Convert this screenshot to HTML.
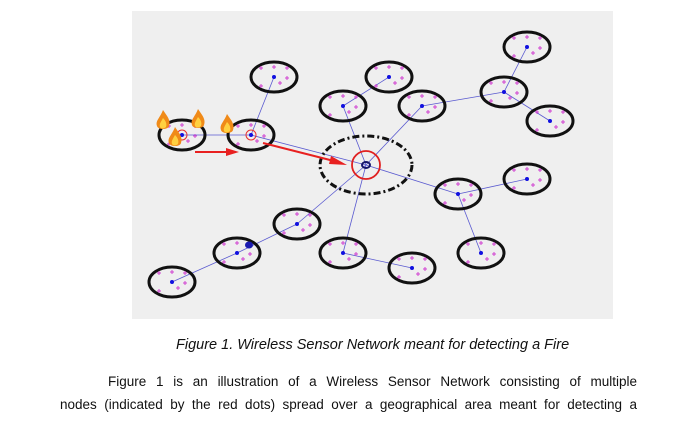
<!DOCTYPE html>
<html><head><meta charset="utf-8"><style>
html,body{margin:0;padding:0;background:#fff;width:698px;height:430px;overflow:hidden;position:relative}
svg{position:absolute;left:0;top:0}
.t{position:absolute;font-family:"Liberation Sans",sans-serif;font-size:13.5px;line-height:1;color:#111;white-space:nowrap}
.j{text-align:justify;text-align-last:justify;white-space:normal}
</style></head><body>
<svg width="698" height="430" viewBox="0 0 698 430">
<defs>
<g id="cr"><path d="M-2 0H2M0 -2V2" stroke="#d040d0" stroke-width="1"/></g>
<g id="ps">
<use href="#cr" x="-13" y="-9"/><use href="#cr" x="0" y="-10"/><use href="#cr" x="13" y="-9"/>
<use href="#cr" x="13" y="1"/><use href="#cr" x="-13" y="9"/><use href="#cr" x="6" y="6"/>
</g>
<g id="fl">
<path d="M0 -12 C4 -6 8 -2 6 4 C5 8 -5 8 -6 4 C-8 -1 -3 -4 0 -12Z" fill="#f08a18"/>
<path d="M0 -4 C3 -1 4 2 3 5 C1 7 -2 7 -3 5 C-4 2 -2 0 0 -4Z" fill="#ffd040"/>
</g>
</defs>
<rect x="132" y="11" width="481" height="308" fill="#efefef"/>
<g stroke="#5a5ad0" stroke-width="0.8" fill="none">
<line x1="182" y1="135" x2="251" y2="135"/>
<line x1="251" y1="135" x2="274" y2="77"/>
<line x1="251" y1="135" x2="366" y2="165"/>
<line x1="343" y1="106" x2="389" y2="77"/>
<line x1="343" y1="106" x2="366" y2="165"/>
<line x1="422" y1="106" x2="366" y2="165"/>
<line x1="422" y1="106" x2="504" y2="92"/>
<line x1="504" y1="92" x2="527" y2="47"/>
<line x1="504" y1="92" x2="550" y2="121"/>
<line x1="366" y1="165" x2="458" y2="194"/>
<line x1="458" y1="194" x2="527" y2="179"/>
<line x1="458" y1="194" x2="481" y2="253"/>
<line x1="366" y1="165" x2="343" y2="253"/>
<line x1="343" y1="253" x2="412" y2="268"/>
<line x1="366" y1="165" x2="297" y2="224"/>
<line x1="297" y1="224" x2="237" y2="253"/>
<line x1="237" y1="253" x2="172" y2="282"/>
</g>
<g stroke="#111" stroke-width="3" fill="none">
<ellipse cx="182" cy="135" rx="23" ry="15"/>
<ellipse cx="251" cy="135" rx="23" ry="15"/>
<ellipse cx="274" cy="77" rx="23" ry="15"/>
<ellipse cx="343" cy="106" rx="23" ry="15"/>
<ellipse cx="389" cy="77" rx="23" ry="15"/>
<ellipse cx="422" cy="106" rx="23" ry="15"/>
<ellipse cx="504" cy="92" rx="23" ry="15"/>
<ellipse cx="527" cy="47" rx="23" ry="15"/>
<ellipse cx="550" cy="121" rx="23" ry="15"/>
<ellipse cx="458" cy="194" rx="23" ry="15"/>
<ellipse cx="527" cy="179" rx="23" ry="15"/>
<ellipse cx="481" cy="253" rx="23" ry="15"/>
<ellipse cx="343" cy="253" rx="23" ry="15"/>
<ellipse cx="412" cy="268" rx="23" ry="15"/>
<ellipse cx="297" cy="224" rx="23" ry="15"/>
<ellipse cx="237" cy="253" rx="23" ry="15"/>
<ellipse cx="172" cy="282" rx="23" ry="15"/>
</g>
<g>
<use href="#ps" x="182" y="135"/><use href="#ps" x="251" y="135"/><use href="#ps" x="274" y="77"/>
<use href="#ps" x="343" y="106"/><use href="#ps" x="389" y="77"/><use href="#ps" x="422" y="106"/>
<use href="#ps" x="504" y="92"/><use href="#ps" x="527" y="47"/><use href="#ps" x="550" y="121"/>
<use href="#ps" x="458" y="194"/><use href="#ps" x="527" y="179"/><use href="#ps" x="481" y="253"/>
<use href="#ps" x="343" y="253"/><use href="#ps" x="412" y="268"/><use href="#ps" x="297" y="224"/>
<use href="#ps" x="237" y="253"/><use href="#ps" x="172" y="282"/>
</g>
<g fill="#1010e0">
<circle cx="182" cy="135" r="2"/><circle cx="251" cy="135" r="2"/><circle cx="274" cy="77" r="2"/>
<circle cx="343" cy="106" r="2"/><circle cx="389" cy="77" r="2"/><circle cx="422" cy="106" r="2"/>
<circle cx="504" cy="92" r="2"/><circle cx="527" cy="47" r="2"/><circle cx="550" cy="121" r="2"/>
<circle cx="458" cy="194" r="2"/><circle cx="527" cy="179" r="2"/><circle cx="481" cy="253" r="2"/>
<circle cx="343" cy="253" r="2"/><circle cx="412" cy="268" r="2"/><circle cx="297" cy="224" r="2"/>
<circle cx="237" cy="253" r="2"/><circle cx="172" cy="282" r="2"/>
</g>
<circle cx="182" cy="135" r="5" fill="none" stroke="#e83030" stroke-width="1"/>
<circle cx="251" cy="135" r="5" fill="none" stroke="#e83030" stroke-width="1"/>
<ellipse cx="249" cy="245" rx="4" ry="3.5" fill="#1a1ab0"/>
<ellipse cx="366" cy="165" rx="46" ry="29" fill="none" stroke="#111" stroke-width="3" stroke-dasharray="7 3 2 3"/>
<circle cx="366" cy="165" r="14" fill="none" stroke="#e02020" stroke-width="1.8"/>
<ellipse cx="366" cy="165" rx="4" ry="3" fill="none" stroke="#15156a" stroke-width="2"/>
<line x1="195" y1="152" x2="228" y2="152" stroke="#e82020" stroke-width="2"/>
<polygon points="226,148 239,152 226,156" fill="#e82020"/>
<line x1="263" y1="143" x2="334" y2="161" stroke="#e82020" stroke-width="2"/>
<polygon points="331,156 347,165 329,164" fill="#e82020"/>
<use href="#fl" x="163" y="122"/><use href="#fl" x="198" y="121"/>
<use href="#fl" x="175" y="139"/><use href="#fl" x="227" y="126"/>
</svg>
<div class="t" style="left:176px;top:338px;width:392px;font-size:14.5px;font-style:italic;text-align:center">Figure 1. Wireless Sensor Network meant for detecting a Fire</div>
<div class="t j" style="left:108px;top:375px;width:529px">Figure 1 is an illustration of a Wireless Sensor Network consisting of multiple</div>
<div class="t j" style="left:60px;top:398px;width:577px">nodes (indicated by the red dots) spread over a geographical area meant for detecting a</div>
</body></html>
